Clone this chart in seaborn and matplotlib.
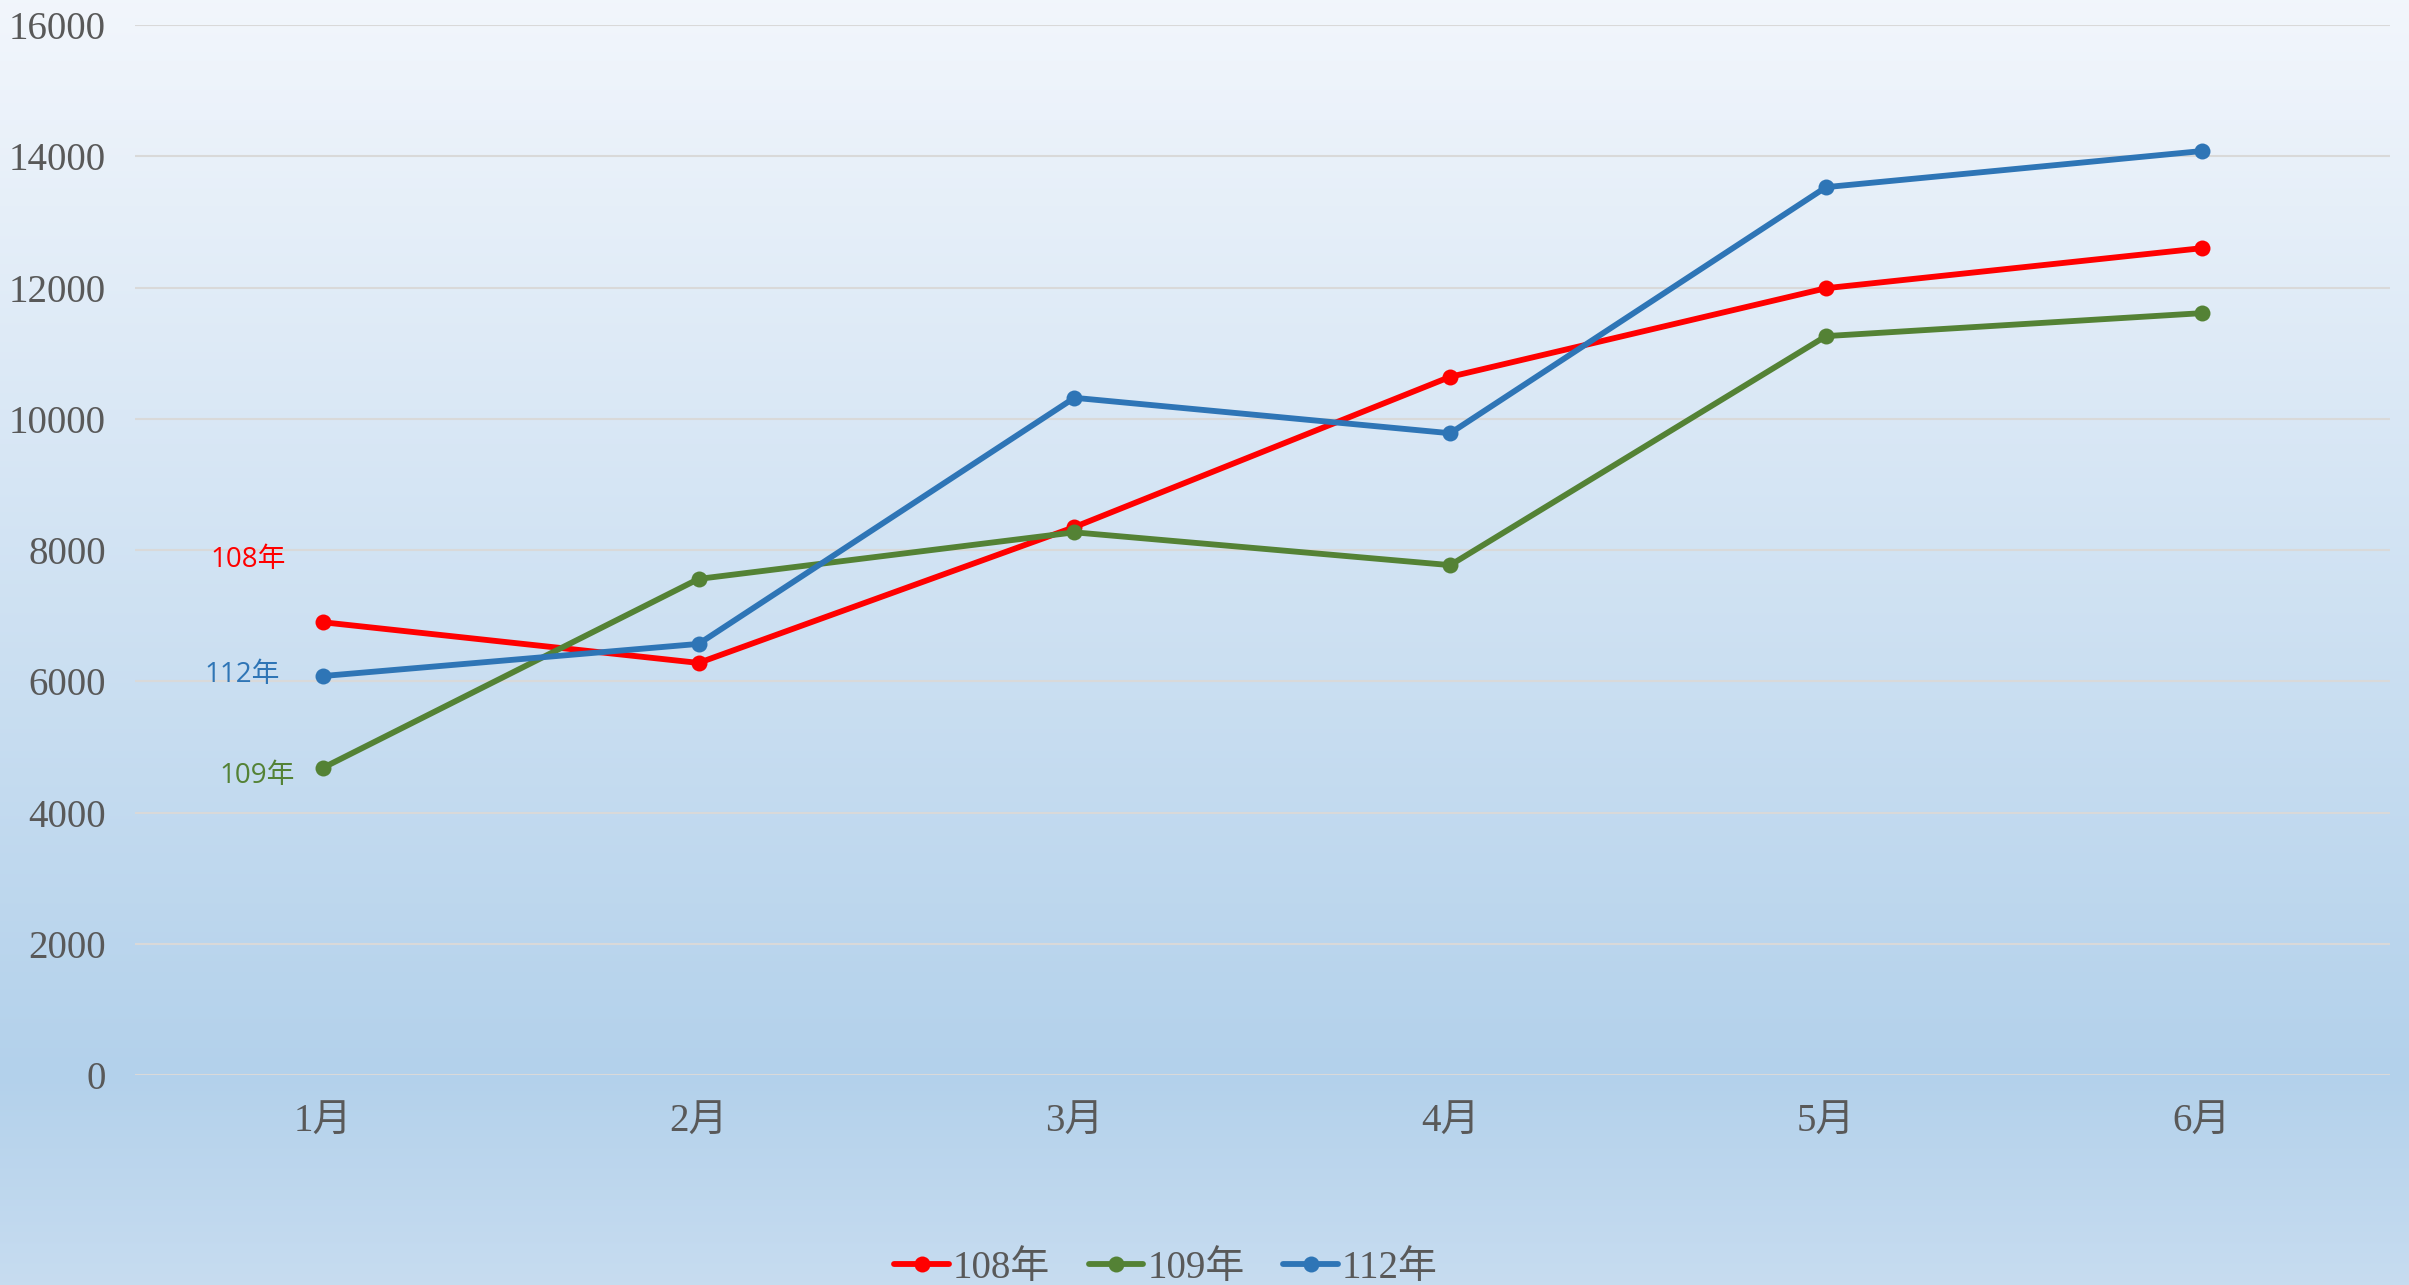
import numpy as np
import pandas as pd
import seaborn as sns
import matplotlib.pyplot as plt

# Data
months = ['1月', '2月', '3月', '4月', '5月', '6月']
years = ['108年', '109年', '112年']
y108 = [6900, 6280, 8350, 10640, 11990, 12600]
y109 = [4680, 7560, 8270, 7770, 11260, 11610]
y112 = [6080, 6570, 10320, 9780, 13530, 14080]
colors = ['#FF0000', '#548235', '#2E75B6']

df = pd.DataFrame({
    'month': months * 3,
    'year': [y for y in years for _ in months],
    'value': y108 + y109 + y112,
})

sns.set_theme(style='white')
plt.rcParams['font.family'] = ['Liberation Serif', 'Noto Sans CJK TC']
text_color = '#595959'

fig = plt.figure(figsize=(24.09, 12.85), dpi=100)

# Background gradient (light at top, deeper blue near the axis, lighter below)
bg = fig.add_axes([0, 0, 1, 1], zorder=-10)
top = np.array([0.949, 0.965, 0.988])
mid = np.array([0.702, 0.820, 0.922])
bot = np.array([0.780, 0.863, 0.941])
n = 512
t = np.linspace(0, 1, n)
split = 1075 / 1285
grad = np.zeros((n, 1, 3))
for i, v in enumerate(t):
    if v <= split:
        grad[i, 0] = top + (mid - top) * (v / split)
    else:
        grad[i, 0] = mid + (bot - mid) * ((v - split) / (1 - split))
bg.imshow(grad, aspect='auto', extent=[0, 1, 0, 1])
bg.axis('off')

ax = fig.add_axes([0.056, 0.1634, 0.936, 0.8171])
ax.patch.set_alpha(0)

sns.lineplot(data=df, x='month', y='value', hue='year', palette=colors,
             marker='o', markersize=11.5, markeredgewidth=0, linewidth=4.2,
             ax=ax, legend=True)

ax.set_xlim(-0.5, 5.5)
ax.set_ylim(0, 16000)
ax.set_yticks(range(0, 16001, 2000))
ax.yaxis.grid(True, color='#d9d9d9', linewidth=1.5)
ax.set_axisbelow(True)
for s in ax.spines.values():
    s.set_visible(False)
ax.set_xlabel('')
ax.set_ylabel('')
ax.tick_params(axis='both', length=0, labelsize=28, colors=text_color)
ax.tick_params(axis='y', pad=21)
ax.tick_params(axis='x', pad=21)

# Series labels next to the first points
offsets = [(-54, 45), (-47, -6), (-58, 1)]
firsts = [y108[0], y109[0], y112[0]]
for name, col, off, v in zip(years, colors, offsets, firsts):
    ax.annotate(name, xy=(0, v), xytext=off, textcoords='offset points',
                ha='center', va='center', color=col, fontsize=20,
                family=['Open Sans', 'Noto Sans CJK TC'])

handles, labels = ax.get_legend_handles_labels()
ax.get_legend().remove()
leg = fig.legend(handles, labels, loc='center', bbox_to_anchor=(0.484, 0.013),
                 ncol=3, frameon=False, fontsize=28, handlelength=1.4,
                 handletextpad=0.1, columnspacing=1.0)
for txt in leg.get_texts():
    txt.set_color(text_color)

fig.savefig('out.png', dpi=100)
